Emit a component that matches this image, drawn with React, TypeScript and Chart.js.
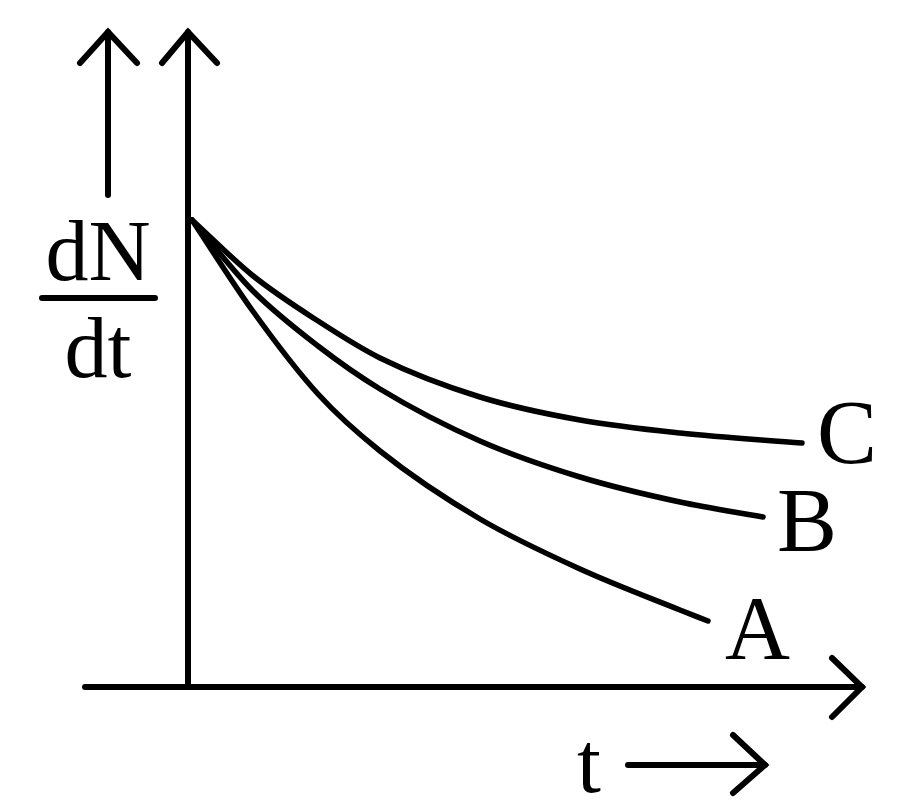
import React, { useEffect, useRef } from "react";
import { Chart, registerables } from "chart.js";

Chart.register(...registerables);

// Decay curves (t, dN/dt), in diagram units
const curveA = [
  { x: 0.04, y: 4.67 }, { x: 0.64, y: 3.77 }, { x: 1.3, y: 2.93 }, { x: 1.92, y: 2.36 },
  { x: 2.92, y: 1.68 }, { x: 3.92, y: 1.18 }, { x: 4.92, y: 0.77 }, { x: 5.2, y: 0.66 },
];
const curveB = [
  { x: 0.04, y: 4.67 }, { x: 0.64, y: 3.97 }, { x: 1.3, y: 3.41 }, { x: 1.92, y: 2.98 },
  { x: 2.92, y: 2.46 }, { x: 3.92, y: 2.1 }, { x: 4.92, y: 1.85 }, { x: 5.75, y: 1.7 },
];
const curveC = [
  { x: 0.04, y: 4.67 }, { x: 0.64, y: 4.12 }, { x: 1.3, y: 3.66 }, { x: 1.92, y: 3.29 },
  { x: 2.92, y: 2.9 }, { x: 3.92, y: 2.67 }, { x: 4.92, y: 2.54 }, { x: 6.14, y: 2.44 },
];

// Axes and arrows (diagram units)
const yAxisLine = [{ x: 0, y: 0 }, { x: 0, y: 6.55 }];
const yAxisHead = [{ x: -0.26, y: 6.24 }, { x: 0, y: 6.55 }, { x: 0.29, y: 6.24 }];
const xAxisLine = [{ x: -1.03, y: 0 }, { x: 6.74, y: 0 }];
const xAxisHead = [{ x: 6.44, y: 0.29 }, { x: 6.74, y: 0 }, { x: 6.44, y: -0.3 }];
const yLabelArrow = [{ x: -0.8, y: 4.92 }, { x: -0.8, y: 6.55 }];
const yLabelHead = [{ x: -1.08, y: 6.24 }, { x: -0.8, y: 6.55 }, { x: -0.51, y: 6.24 }];
const tLabelArrow = [{ x: 4.4, y: -0.78 }, { x: 5.77, y: -0.78 }];
const tLabelHead = [{ x: 5.45, y: -0.48 }, { x: 5.77, y: -0.78 }, { x: 5.45, y: -1.06 }];
const fractionBar = [{ x: -1.46, y: 3.89 }, { x: -0.33, y: 3.89 }];

// Text labels
const curveLabels: [string, number, number][] = [
  ["C", 6.29, 2.24],
  ["B", 5.89, 1.36],
  ["A", 5.37, 0.28],
];
const axisTexts: [string, number, number, CanvasTextAlign][] = [
  ["dN", -0.9, 4.07, "center"],
  ["dt", -0.9, 3.1, "center"],
  ["t", 3.89, -1.05, "left"],
];

const X_RANGE = [-1.88, 7.12];
const Y_RANGE = [-1.22, 6.87];
const SERIF = '"Liberation Serif", "Times New Roman", serif';

export default function App() {
  const ref = useRef<HTMLCanvasElement | null>(null);

  useEffect(() => {
    if (!ref.current) return;
    document.body.style.margin = "0";
    let chart: Chart | null = null;
    let cancelled = false;

    const line = (data: { x: number; y: number }[], width: number, curve = false) => ({
      data,
      showLine: true,
      borderColor: "#000",
      backgroundColor: "#000",
      borderWidth: width,
      pointRadius: 0,
      pointHoverRadius: 0,
      fill: false,
      borderCapStyle: "round" as const,
      borderJoinStyle: "miter" as const,
      cubicInterpolationMode: curve ? ("monotone" as const) : ("default" as const),
      tension: 0,
    });

    const textPlugin = {
      id: "diagramText",
      afterDatasetsDraw(c: any) {
        const ctx = c.ctx as CanvasRenderingContext2D;
        const xs = c.scales.x;
        const ys = c.scales.y;
        ctx.save();
        ctx.fillStyle = "#000";
        ctx.textBaseline = "alphabetic";
        ctx.font = `90px ${SERIF}`;
        ctx.textAlign = "left";
        for (const [s, x, y] of curveLabels) {
          ctx.fillText(s, xs.getPixelForValue(x), ys.getPixelForValue(y));
        }
        ctx.font = `86px ${SERIF}`;
        for (const [s, x, y, a] of axisTexts) {
          ctx.textAlign = a;
          ctx.fillText(s, xs.getPixelForValue(x), ys.getPixelForValue(y));
        }
        ctx.restore();
      },
    };

    const build = () => {
      if (cancelled || !ref.current) return;
      chart = new Chart(ref.current, {
        type: "scatter",
        data: {
          datasets: [
            line(curveA, 5.5, true),
            line(curveB, 5.5, true),
            line(curveC, 5.5, true),
            line(yAxisLine, 6),
            line(yAxisHead, 6),
            line(xAxisLine, 6),
            line(xAxisHead, 6),
            line(yLabelArrow, 6),
            line(yLabelHead, 6),
            line(tLabelArrow, 6),
            line(tLabelHead, 6),
            line(fractionBar, 6),
          ] as any,
        },
        options: {
          animation: false,
          responsive: false,
          devicePixelRatio: 1,
          layout: { padding: 0 },
          plugins: { legend: { display: false }, tooltip: { enabled: false } },
          events: [],
          scales: {
            x: { type: "linear", min: X_RANGE[0], max: X_RANGE[1], display: false },
            y: { type: "linear", min: Y_RANGE[0], max: Y_RANGE[1], display: false },
          },
        },
        plugins: [textPlugin],
      });
    };

    const fonts = (document as any).fonts;
    if (fonts && fonts.load) {
      Promise.all([fonts.load(`90px ${SERIF}`), fonts.load(`86px ${SERIF}`)])
        .catch(() => null)
        .then(build);
    } else {
      build();
    }
    return () => {
      cancelled = true;
      if (chart) chart.destroy();
    };
  }, []);

  return (
    <div style={{ position: "absolute", left: 0, top: 0, width: 900, height: 809, background: "#fff" }}>
      <canvas ref={ref} width={900} height={809} style={{ display: "block" }} />
    </div>
  );
}
